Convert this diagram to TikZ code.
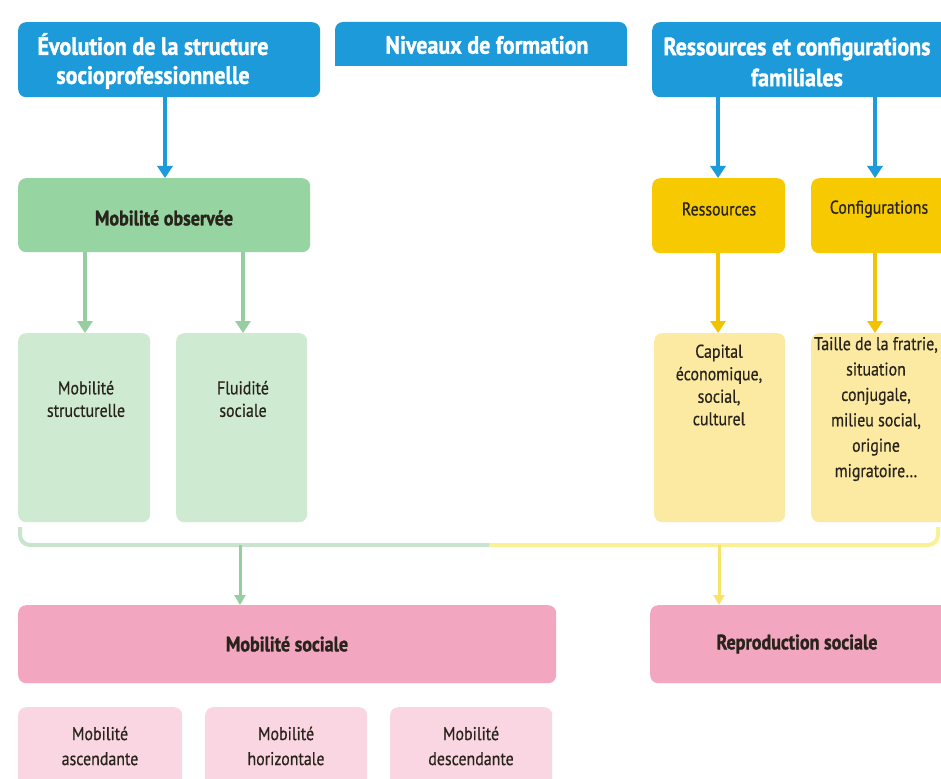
\documentclass[tikz,border=0pt]{standalone}
\usepackage{fontspec}
\setmainfont[FakeStretch=0.86, BoldFeatures={FakeBold=1.2}]{PT Sans}
\newfontfamily\hdrfont[FakeStretch=0.88, BoldFeatures={FakeBold=1.4}]{PT Sans}
\newfontfamily\medfont[FakeStretch=0.86, FakeBold=0.6]{PT Sans}
\usetikzlibrary{arrows.meta}
\definecolor{cblue}{RGB}{28,154,218}
\definecolor{cgreen}{RGB}{150,212,162}
\definecolor{clgreen}{RGB}{206,234,208}
\definecolor{cagreen}{RGB}{150,206,160}
\definecolor{cyellow}{RGB}{247,201,0}
\definecolor{clyellow}{RGB}{253,234,162}
\definecolor{cayellow}{RGB}{242,196,0}
\definecolor{cpink}{RGB}{243,166,192}
\definecolor{clpink}{RGB}{250,214,226}
\definecolor{cbgreen}{RGB}{200,228,206}
\definecolor{cbyellow}{RGB}{250,240,150}
\definecolor{ctext}{RGB}{40,36,28}
\tikzset{
  boxbase/.style={rounded corners=8pt, inner sep=0pt, align=center, anchor=north west},
  hdrtext/.style={align=center, inner sep=0pt, text=white, font=\hdrfont\bfseries\fontsize{25}{29}\selectfont},
  darktext/.style={align=center, inner sep=0pt, text=ctext, font=\bfseries\fontsize{21}{24}\selectfont},
  boxtext/.style={align=center, inner sep=0pt, text=ctext, font=\medfont\fontsize{18.5}{22.5}\selectfont},
  bluearrow/.style={cblue, line width=4pt, -{Triangle[width=15pt,length=12pt]}},
  greenarrow/.style={cagreen, line width=4pt, -{Triangle[width=15pt,length=12pt]}},
  yellowarrow/.style={cayellow, line width=4pt, -{Triangle[width=15pt,length=12pt]}},
  thingreen/.style={cagreen, line width=3pt, -{Triangle[width=11pt,length=10pt]}},
  thinyellow/.style={cbyellow!70!cayellow, line width=3pt, -{Triangle[width=11pt,length=10pt]}},
}
\begin{document}
\begin{tikzpicture}[x=1pt,y=1pt]
\useasboundingbox (0,0) rectangle (941,-778);
\fill[white] (0,0) rectangle (941,-778);
% top blue boxes
\node[boxbase, fill=cblue, minimum width=302pt, minimum height=75pt] (evo) at (18,-22) {};
\node[hdrtext] (tevo) at (153,-61) {Évolution de la structure\\socioprofessionnelle};
\fill[cblue] (335,-66) {[rounded corners=8pt] -- (335,-22) -- (627,-22)} -- (627,-66) -- cycle;
\node[hdrtext] (niv) at (487,-45) {Niveaux de formation};
\node[boxbase, fill=cblue, minimum width=300pt, minimum height=75pt] (res) at (652,-22) {};
\node[hdrtext, font=\hdrfont\bfseries\fontsize{25}{31}\selectfont] (tres) at (797,-62) {Ressources et configurations\\familiales};
% second row
\node[boxbase, fill=cgreen, minimum width=292pt, minimum height=74pt] (obs) at (18,-178) {};
\node[darktext] (tobs) at (164,-218) {Mobilité observée};
\node[boxbase, fill=cyellow, minimum width=133pt, minimum height=75pt] (ress) at (652,-178) {};
\node[boxtext] (tress) at (719,-209) {Ressources};
\node[boxbase, fill=cyellow, minimum width=140pt, minimum height=75pt] (conf) at (811,-178) {};
\node[boxtext] (tconf) at (879,-209) {Configurations};
% third row
\node[boxbase, fill=clgreen, minimum width=132pt, minimum height=189pt] (struc) at (18,-333) {};
\node[boxbase, fill=clgreen, minimum width=131pt, minimum height=189pt] (flui) at (176,-333) {};
\node[boxbase, fill=clyellow, minimum width=131pt, minimum height=189pt] (cap) at (654,-333) {};
\node[boxbase, fill=clyellow, minimum width=140pt, minimum height=189pt] (taille) at (811,-333) {};
\node[boxtext] (tstruc) at (86,-399) {Mobilité\\structurelle};
\node[boxtext] (tflui) at (243,-399) {Fluidité\\sociale};
\node[boxtext] (tcap) at (719,-385) {Capital\\économique,\\social,\\culturel};
\node[boxtext, font=\medfont\fontsize{18.5}{25.4}\selectfont] (ttaille) at (876,-409) {Taille de la fratrie,\\situation\\conjugale,\\milieu social,\\origine\\migratoire…};
% arrows
\draw[bluearrow] (evo.south -| 165,0) -- (obs.north -| 165,0);
\draw[bluearrow] (res.south -| 718,0) -- (ress.north -| 718,0);
\draw[bluearrow] (res.south -| 875,0) -- (conf.north -| 875,0);
\draw[greenarrow] (obs.south -| 85,0) -- (struc.north -| 85,0);
\draw[greenarrow] (obs.south -| 243,0) -- (flui.north -| 243,0);
\draw[yellowarrow] (ress.south -| 718,0) -- (cap.north -| 718,0);
\draw[yellowarrow] (conf.south -| 875,0) -- (taille.north -| 875,0);
% bracket
\coordinate (bl) at (20,-527);
\coordinate (bm) at (489,-545);
\coordinate (br) at (938,-527);
\draw[cbgreen, line width=4pt, rounded corners=10pt] (bl) |- (bm);
\draw[cbyellow, line width=4pt, rounded corners=10pt] (bm) -| (br);
\coordinate (ga) at (240,-545);
\coordinate (ya) at (719,-545);
% pink boxes
\node[boxbase, fill=cpink, minimum width=538pt, minimum height=78pt] (msoc) at (18,-605) {};
\node[darktext] (tmsoc) at (287,-644) {Mobilité sociale};
\node[boxbase, fill=cpink, minimum width=300pt, minimum height=78pt] (rsoc) at (650,-605) {};
\node[darktext] (trsoc) at (797,-644) {Reproduction sociale};
\draw[thingreen] (ga) -- (msoc.north -| ga);
\draw[thinyellow] (ya) -- (rsoc.north -| ya);
\node[boxbase, fill=clpink, minimum width=164pt, minimum height=80pt] (asc) at (18,-707) {};
\node[boxbase, fill=clpink, minimum width=162pt, minimum height=80pt] (hor) at (205,-707) {};
\node[boxbase, fill=clpink, minimum width=162pt, minimum height=80pt] (desc) at (390,-707) {};
\node[boxtext, font=\medfont\fontsize{18.5}{25}\selectfont] (tasc) at (100,-746) {Mobilité\\ascendante};
\node[boxtext, font=\medfont\fontsize{18.5}{25}\selectfont] (thor) at (286,-746) {Mobilité\\horizontale};
\node[boxtext, font=\medfont\fontsize{18.5}{25}\selectfont] (tdesc) at (471,-746) {Mobilité\\descendante};
\end{tikzpicture}
\end{document}
